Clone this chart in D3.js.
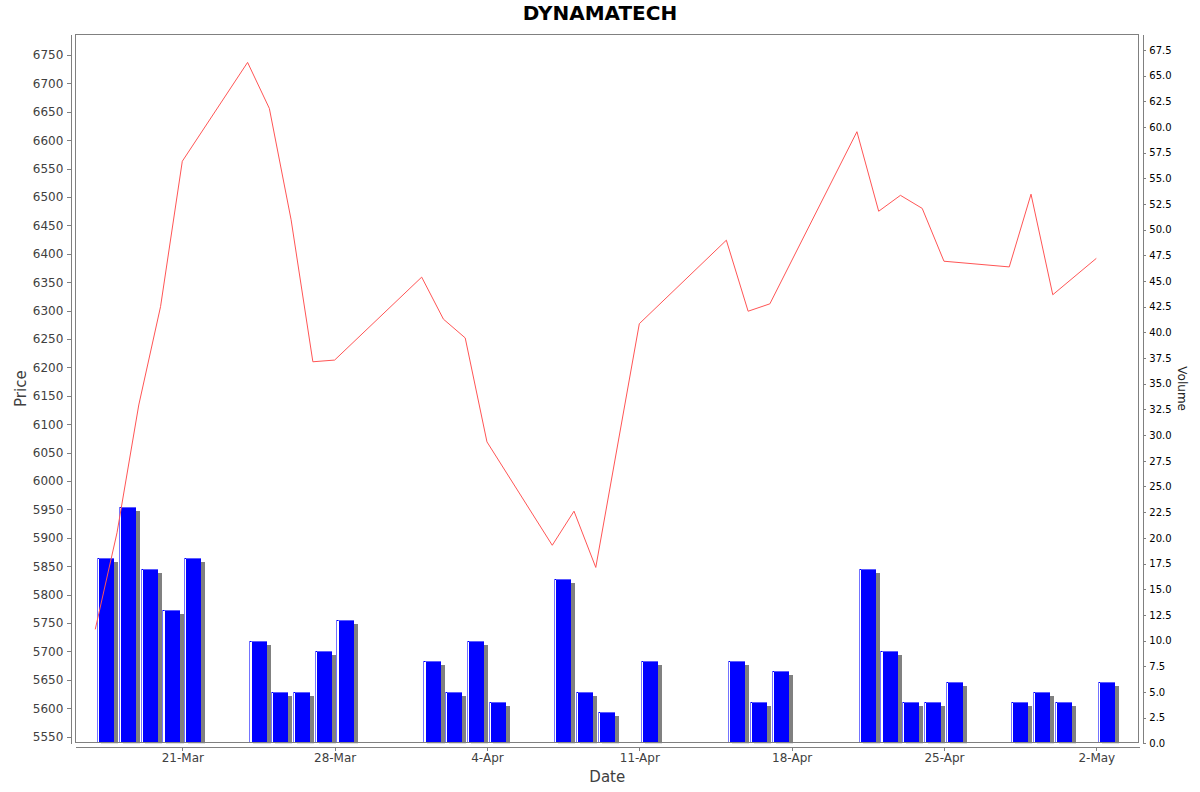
<!DOCTYPE html>
<html>
<head>
<meta charset="utf-8">
<script src="https://cdn.jsdelivr.net/npm/d3@7"></script>
<style>
  body { margin: 0; background: #fff; }
  text { font-family: "DejaVu Sans", sans-serif; }
</style>
</head>
<body>
<div id="wrapper"></div>
<script>
const dates = [
  '2014-03-17', '2014-03-18', '2014-03-19', '2014-03-20', '2014-03-21',
  '2014-03-24', '2014-03-25', '2014-03-26', '2014-03-27', '2014-03-28',
  '2014-04-01', '2014-04-02', '2014-04-03', '2014-04-04',
  '2014-04-07', '2014-04-08', '2014-04-09', '2014-04-11',
  '2014-04-15', '2014-04-16', '2014-04-17',
  '2014-04-21', '2014-04-22', '2014-04-23', '2014-04-24', '2014-04-25',
  '2014-04-28', '2014-04-29', '2014-04-30', '2014-05-02'
]
const prices = [
  5739, 5909, 6134, 6307, 6563,
  6737, 6656, 6460, 6210, 6213,
  6359, 6285, 6252, 6069,
  5887, 5947, 5848, 6277,
  6424, 6299, 6312,
  6615, 6475, 6503, 6480, 6387,
  6377, 6505, 6328, 6392
]
const volumes = [
  18, 23, 17, 13, 18,
  10, 5, 5, 9, 12,
  8, 5, 10, 4,
  16, 5, 3, 8,
  8, 4, 7,
  17, 9, 4, 4, 6,
  4, 5, 4, 6
]
const dateTicks = ['2014-03-21', '2014-03-28', '2014-04-04', '2014-04-11', '2014-04-18', '2014-04-25', '2014-05-02']
const priceTicks = d3.range(5550, 6751, 50)
const volumeTicks = d3.range(0, 67.6, 2.5)

const titleText = 'DYNAMATECH'
const xLabel = 'Date'
const yLabel = 'Price'
const y2Label = 'Volume'

function drawChart() {
  const dateParser = d3.utcParse('%Y-%m-%d')
  const dataset = dates.map((d, i) => ({
    date: dateParser(d),
    price: prices[i],
    volume: volumes[i]
  }))
  const xAccessor = d => d.date
  const priceAccessor = d => d.price
  const volumeAccessor = d => d.volume

  // dimensions
  let dimensions = {
    width: 1200,
    height: 792,
    margin: { top: 34, right: 60.7, bottom: 48.7, left: 75.3 }
  }
  dimensions.boundedWidth = dimensions.width - dimensions.margin.left - dimensions.margin.right
  dimensions.boundedHeight = dimensions.height - dimensions.margin.top - dimensions.margin.bottom
  const axisGap = 4

  const wrapper = d3.select('#wrapper')
    .append('svg')
      .attr('width', dimensions.width)
      .attr('height', dimensions.height)

  wrapper.append('defs').append('clipPath')
      .attr('id', 'plot-clip')
    .append('rect')
      .attr('width', dimensions.boundedWidth)
      .attr('height', dimensions.boundedHeight)

  const bounds = wrapper.append('g')
    .attr('transform', `translate(${dimensions.margin.left}, ${dimensions.margin.top})`)

  // scales
  const xScale = d3.scaleUtc()
    .domain([Date.UTC(2014, 2, 16, 2, 0), Date.UTC(2014, 4, 3, 23, 25)])
    .range([0, dimensions.boundedWidth])

  const priceScale = d3.scaleLinear()
    .domain([5538.4, 6787])
    .range([dimensions.boundedHeight, 0])

  const volumeScale = d3.scaleLinear()
    .domain([0, 69.05])
    .range([dimensions.boundedHeight, 0])

  // bars
  const barMargin = 0.09
  const barX = d => xScale(d3.utcHour.offset(xAccessor(d), 24 * barMargin))
  const barW = d => xScale(d3.utcHour.offset(xAccessor(d), 24 * (1 - barMargin))) - barX(d)
  const barY = d => volumeScale(volumeAccessor(d))
  const barH = d => volumeScale(0) - barY(d)

  const barsGroup = bounds.append('g')
      .attr('clip-path', 'url(#plot-clip)')
      .attr('shape-rendering', 'crispEdges')

  const bar = barsGroup.selectAll('g')
    .data(dataset)
    .join('g')

  bar.append('rect')
      .attr('x', d => barX(d) + 4)
      .attr('y', d => barY(d) + 4)
      .attr('width', barW)
      .attr('height', d => Math.max(0, barH(d)))
      .attr('fill', '#808080')

  bar.append('rect')
      .attr('x', barX)
      .attr('y', barY)
      .attr('width', barW)
      .attr('height', barH)
      .attr('fill', '#0000ff')

  bar.append('rect')
      .attr('x', barX)
      .attr('y', barY)
      .attr('width', 1)
      .attr('height', barH)
      .attr('fill', '#7474ff')

  bar.append('rect')
      .attr('x', d => barX(d) + 1)
      .attr('y', d => barY(d) + 1)
      .attr('width', 1.2)
      .attr('height', d => barH(d) - 1)
      .attr('fill', '#ffffff')

  bar.append('rect')
      .attr('x', d => barX(d) + 2)
      .attr('y', barY)
      .attr('width', d => barW(d) - 2)
      .attr('height', 1)
      .attr('fill', '#5c5cff')

  // price line
  const lineGenerator = d3.line()
    .x(d => xScale(xAccessor(d)))
    .y(d => priceScale(priceAccessor(d)))

  bounds.append('path')
      .datum(dataset)
      .attr('clip-path', 'url(#plot-clip)')
      .attr('d', lineGenerator)
      .attr('fill', 'none')
      .attr('stroke', '#ff5555')
      .attr('stroke-width', 1)

  // plot outline
  bounds.append('rect')
      .attr('x', 0.5)
      .attr('y', 0.5)
      .attr('width', dimensions.boundedWidth - 1)
      .attr('height', dimensions.boundedHeight - 1)
      .attr('fill', 'none')
      .attr('stroke', '#808080')
      .attr('stroke-width', 1)
      .attr('shape-rendering', 'crispEdges')

  // axes
  const styleAxis = (axis, color, size) => {
    axis.attr('shape-rendering', 'crispEdges')
    axis.select('.domain').attr('stroke', '#808080')
    axis.selectAll('.tick line').attr('stroke', '#808080')
    axis.selectAll('.tick text')
      .attr('fill', color)
      .style('font-size', `${size}px`)
      .style('font-family', '"DejaVu Sans", sans-serif')
  }

  const xAxisGenerator = d3.axisBottom(xScale)
    .tickValues(dateTicks.map(dateParser))
    .tickFormat(d3.utcFormat('%-d-%b'))
    .tickSize(4)
    .tickSizeOuter(0)
    .tickPadding(2)

  const xAxis = bounds.append('g')
      .attr('transform', `translate(0, ${dimensions.boundedHeight + axisGap})`)
      .call(xAxisGenerator)
  styleAxis(xAxis, '#404040', 12)

  const yAxisGenerator = d3.axisLeft(priceScale)
    .tickValues(priceTicks)
    .tickFormat(d3.format('d'))
    .tickSize(4)
    .tickSizeOuter(0)
    .tickPadding(4)

  const yAxis = bounds.append('g')
      .attr('transform', `translate(${-axisGap}, 0)`)
      .call(yAxisGenerator)
  styleAxis(yAxis, '#404040', 12)

  const y2AxisGenerator = d3.axisRight(volumeScale)
    .tickValues(volumeTicks)
    .tickFormat(d3.format('.1f'))
    .tickSize(3)
    .tickSizeOuter(0)
    .tickPadding(3)

  const y2Axis = bounds.append('g')
      .attr('transform', `translate(${dimensions.boundedWidth + axisGap}, 0)`)
      .call(y2AxisGenerator)
  styleAxis(y2Axis, '#000000', 10)

  // labels
  wrapper.append('text')
      .attr('x', 600)
      .attr('y', 20)
      .attr('text-anchor', 'middle')
      .style('font-size', '20px')
      .style('font-weight', 'bold')
      .attr('fill', '#000')
      .text(titleText)

  wrapper.append('text')
      .attr('x', dimensions.margin.left + dimensions.boundedWidth / 2)
      .attr('y', 781.5)
      .attr('text-anchor', 'middle')
      .style('font-size', '15px')
      .attr('fill', '#404040')
      .text(xLabel)

  wrapper.append('text')
      .attr('transform', `translate(25.5, ${dimensions.margin.top + dimensions.boundedHeight / 2}) rotate(-90)`)
      .attr('text-anchor', 'middle')
      .style('font-size', '15px')
      .attr('fill', '#404040')
      .text(yLabel)

  wrapper.append('text')
      .attr('transform', `translate(1177.5, ${dimensions.margin.top + dimensions.boundedHeight / 2}) rotate(90)`)
      .attr('text-anchor', 'middle')
      .style('font-size', '12px')
      .attr('fill', '#222')
      .text(y2Label)
}

drawChart()
</script>
</body>
</html>
